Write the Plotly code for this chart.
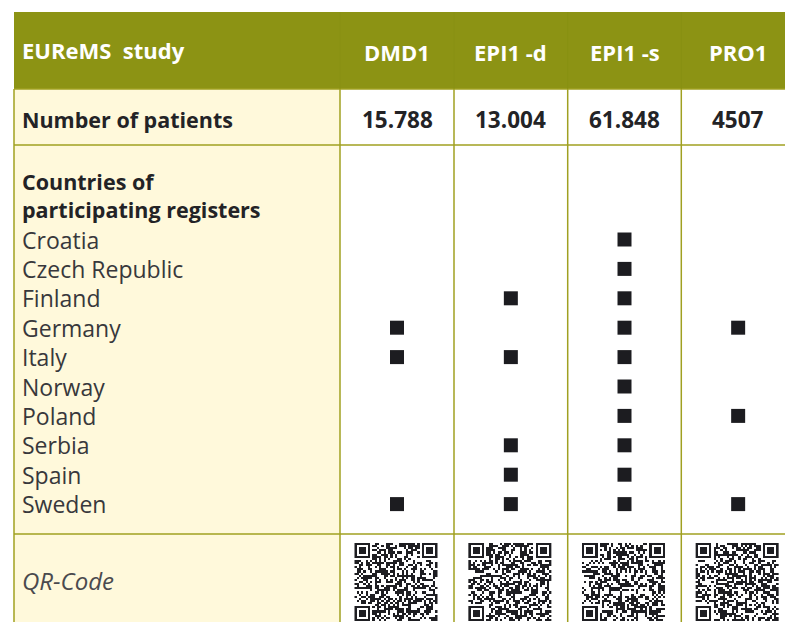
import plotly.graph_objects as go

# ---- data ----
studies = ["DMD1", "EPI1 -d", "EPI1 -s", "PRO1"]
patients = ["15.788", "13.004", "61.848", "4507"]
countries = ["Croatia", "Czech Republic", "Finland", "Germany", "Italy",
             "Norway", "Poland", "Serbia", "Spain", "Sweden"]
participation = {
    "DMD1": ["Germany", "Italy", "Sweden"],
    "EPI1 -d": ["Finland", "Italy", "Serbia", "Spain", "Sweden"],
    "EPI1 -s": ["Croatia", "Czech Republic", "Finland", "Germany", "Italy",
                "Norway", "Poland", "Serbia", "Spain", "Sweden"],
    "PRO1": ["Germany", "Poland", "Sweden"],
}
header_label = "EUReMS&nbsp; study"
row_labels = ["Number of patients", "Countries of<br>participating registers", "QR-Code"]

# ---- layout geometry (screen pixels) ----
W, H = 785, 622
left = 14
col_edges = [340, 454, 567.7, 681.3, 795]
top, hdr_bot, r1_bot, r2_bot = 12, 89, 145, 534
country_y0, country_dy = 239.5, 29.4

HEADER = "#8C9314"
LIGHT = "#FFF9DB"
LINE = "#A0A021"
TXT = "#232326"
FONT = "Open Sans"

col_centers = [(col_edges[i] + col_edges[i + 1]) / 2 for i in range(len(studies))]
country_rows = {c: country_y0 + i * country_dy for i, c in enumerate(countries)}

fig = go.Figure()
shapes = []
shapes.append(dict(type="rect", x0=left, x1=W + 20, y0=top, y1=hdr_bot, fillcolor=HEADER, line_width=0, layer="below"))
shapes.append(dict(type="rect", x0=left, x1=col_edges[0], y0=hdr_bot, y1=H + 20, fillcolor=LIGHT, line_width=0, layer="below"))
for y in [hdr_bot, r1_bot, r2_bot]:
    shapes.append(dict(type="line", x0=left, x1=W + 20, y0=y, y1=y, line=dict(color=LINE, width=1.5)))
shapes.append(dict(type="line", x0=left, x1=left, y0=hdr_bot, y1=H + 20, line=dict(color=LINE, width=1.5)))
for x in col_edges[:-1]:
    shapes.append(dict(type="line", x0=x, x1=x, y0=hdr_bot, y1=H + 20, line=dict(color=LINE, width=1.5)))
    shapes.append(dict(type="line", x0=x, x1=x, y0=top, y1=hdr_bot, line=dict(color="#889012", width=1)))

annotations = []
def txt(x, y, s, size=20, color=TXT, bold=False, italic=False, anchor="left"):
    if bold:
        s = f"<b>{s}</b>"
    if italic:
        s = f"<i>{s}</i>"
    annotations.append(dict(x=x, y=y, xref="x", yref="y", text=s, showarrow=False,
                            xanchor=anchor, yanchor="middle", align="left",
                            font=dict(family=FONT, size=size, color=color)))

txt(20, 50, header_label, size=22, color="white", bold=True)
for s, c in zip(studies, col_centers):
    txt(c, 52, s, size=22, color="white", bold=True, anchor="center")
txt(20, 119, row_labels[0], size=21.5, bold=True)
for p, c in zip(patients, col_centers):
    txt(c, 119, p, size=22.5, bold=True, anchor="center")
annotations.append(dict(x=20, y=195.5, xref="x", yref="y", text="<b>" + row_labels[1] + "</b>",
                        showarrow=False, xanchor="left", yanchor="middle", align="left",
                        font=dict(family=FONT, size=21.5, color=TXT)))
for c in countries:
    txt(20, country_rows[c], c, size=23, color="#38383b")
txt(20, 580, row_labels[2], size=24, color="#4a4a4e", italic=True)

# participation markers
xs, ys = [], []
for s, c in zip(studies, col_centers):
    for ctry in participation[s]:
        xs.append(c)
        ys.append(country_rows[ctry])
fig.add_trace(go.Scatter(x=xs, y=ys, mode="markers", hoverinfo="skip",
                         marker=dict(symbol="square", size=14, color="#1C1C20")))

# QR-code-like images (decorative texture)
N = 37
def qr_matrix(seed):
    m = [[0] * N for _ in range(N)]
    for i in range(N):
        for j in range(N):
            h = (i * 73856093) ^ (j * 19349663) ^ (seed * 83492791)
            h = (h * 2654435761) & 0xFFFFFFFF
            m[i][j] = 1 if (h >> 13) % 100 < 52 else 0
    def finder(r0, c0):
        for a in range(-1, 8):
            for b in range(-1, 8):
                r, c = r0 + a, c0 + b
                if 0 <= r < N and 0 <= c < N:
                    if a in (-1, 7) or b in (-1, 7):
                        m[r][c] = 0
                    elif a in (0, 6) or b in (0, 6) or (2 <= a <= 4 and 2 <= b <= 4):
                        m[r][c] = 1
                    else:
                        m[r][c] = 0
    finder(0, 0); finder(0, N - 7); finder(N - 7, 0)
    return m

qr_w, qr_h = 83, 78
mx, my = qr_w / N, qr_h / N
for k, c in enumerate(col_centers):
    x0 = c - qr_w / 2 - 1
    y0 = 543
    fig.add_trace(go.Heatmap(z=qr_matrix(k + 1), x0=x0 + mx / 2, dx=mx, y0=y0 + my / 2, dy=my,
                             colorscale=[[0, "rgba(255,255,255,0)"], [1, "#1E1E22"]],
                             zmin=0, zmax=1, showscale=False, hoverinfo="skip"))

fig.update_layout(
    width=W, height=H, margin=dict(l=0, r=0, t=0, b=0),
    paper_bgcolor="white", plot_bgcolor="white", showlegend=False,
    shapes=shapes, annotations=annotations,
    xaxis=dict(range=[0, W], visible=False, fixedrange=True),
    yaxis=dict(range=[H, 0], visible=False, fixedrange=True),
)
fig.write_html("out.html", config={"displayModeBar": False},
               post_script="document.body.style.margin='0px';document.body.style.overflow='hidden';")
